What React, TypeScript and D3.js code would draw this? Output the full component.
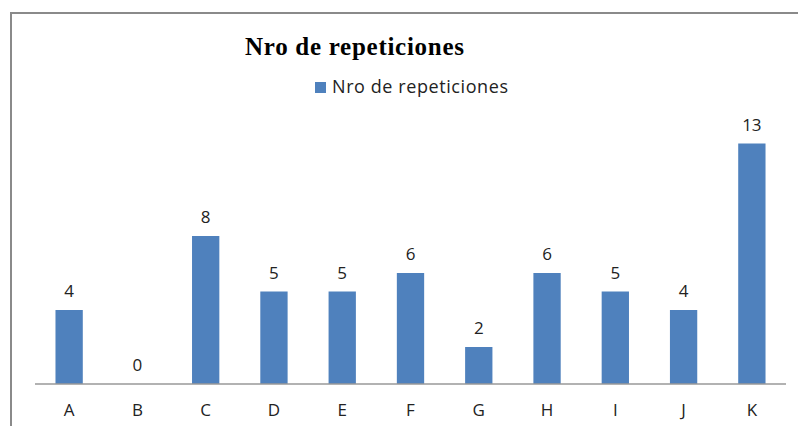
import React from "react";
import * as d3 from "d3";

const categories = ["A", "B", "C", "D", "E", "F", "G", "H", "I", "J", "K"];
const repeticiones = [4, 0, 8, 5, 5, 6, 2, 6, 5, 4, 13];
const seriesName = "Nro de repeticiones";
const title = "Nro de repeticiones";

const width = 798;
const height = 426;

const App = () => {
	const x = d3
		.scaleBand<string>()
		.domain(categories)
		.range([35, 786])
		.paddingInner(0.6)
		.paddingOuter(0.3);

	const y = d3.scaleLinear().domain([0, 14]).range([384, 125]);

	const sans = "'Open Sans', 'Liberation Sans', sans-serif";

	return (
		<svg
			width={width}
			height={height}
			style={{ position: "absolute", left: 0, top: 0, background: "#fff" }}
		>
			{/* frame */}
			<rect x={11} y={13} width={820} height={440} fill="none" stroke="#8a8a8a" strokeWidth={2} />

			<text
				x={354.5}
				y={55}
				textAnchor="middle"
				fontFamily="'Liberation Serif', 'Times New Roman', serif"
				fontWeight="bold"
				fontSize={25}
				fill="#000"
				textLength={219}
			>
				{title}
			</text>

			{/* legend */}
			<rect x={315} y={82} width={11} height={11} fill="#4F81BD" />
			<text x={332} y={93} fontFamily={sans} fontSize={18} fill="#222" textLength={176}>
				{seriesName}
			</text>

			{repeticiones.map((v, i) => {
				const c = categories[i];
				const bx = x(c) ?? 0;
				return (
					<g key={c}>
						<rect
							x={bx}
							y={y(v)}
							width={x.bandwidth()}
							height={y(0) - y(v)}
							fill="#4F81BD"
						/>
						<text
							x={bx + x.bandwidth() / 2}
							y={y(v) - 13}
							textAnchor="middle"
							fontFamily={sans}
							fontSize={17}
							fill="#222"
						>
							{v}
						</text>
					</g>
				);
			})}

			{/* axis line */}
			<line x1={35} x2={786} y1={y(0)} y2={y(0)} stroke="#999" strokeWidth={1.5} />

			{categories.map((c) => (
				<text
					key={c}
					x={(x(c) ?? 0) + x.bandwidth() / 2}
					y={416}
					textAnchor="middle"
					fontFamily={sans}
					fontSize={17}
					fill="#222"
				>
					{c}
				</text>
			))}
		</svg>
	);
};

export default App;
